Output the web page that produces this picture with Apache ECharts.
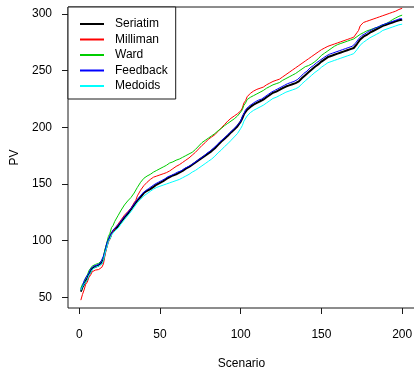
<!DOCTYPE html>
<html>
<head>
<meta charset="utf-8">
<script src="https://cdn.jsdelivr.net/npm/echarts@6/dist/echarts.min.js"></script>
<style>
  html, body { margin: 0; padding: 0; background: #fff; }
  #chart { width: 414px; height: 368px; }
</style>
</head>
<body>
<div id="chart"></div>
<script>
// Present value (PV) per scenario, one array per grouping method
const seriesNames = ['Seriatim', 'Milliman', 'Ward', 'Feedback', 'Medoids'];
const xTicks = [0, 50, 100, 150, 200];
const yTicks = [50, 100, 150, 200, 250, 300];

const seriatim = [
  55, 59, 61.5, 64.5, 66.5, 70.5, 72.5, 75.5, 75.5, 77,
  76.5, 78, 78, 80.5, 83.5, 90.5, 95.5, 100.5, 102.5, 106.5,
  107.5, 110, 110.5, 112.5, 113.5, 116.5, 117.5, 120.5, 121, 123.5,
  124.5, 127.5, 128.5, 131.5, 132.5, 135.5, 136, 138.5, 139.5, 142,
  142, 144, 144, 145.5, 145.5, 147.5, 147.5, 149.5, 149.5, 151,
  151, 152.5, 152.5, 154.5, 154.5, 156, 155.5, 157.5, 157, 158.5,
  158.5, 160, 160, 161.5, 161.5, 163.5, 163, 165, 165, 167,
  167, 169, 169, 171, 171, 173, 173, 175, 175, 177,
  177, 179, 179.5, 181.5, 182, 184.5, 185, 187.5, 187.5, 190,
  190, 192.5, 193, 195.5, 195.5, 198, 198.5, 201, 201.5, 205,
  208, 211.5, 213, 215.5, 216, 218, 218, 220, 220, 221.5,
  221.5, 223, 222.5, 224.5, 224.5, 226.5, 226.5, 228.5, 228.5, 230.5,
  230, 231.5, 231.5, 233, 232.5, 234.5, 234, 236, 235.5, 237,
  236.5, 238, 237.5, 239, 238.5, 240.5, 241, 243.5, 244, 246,
  246, 248.5, 249, 251, 251, 253.5, 253.5, 255.5, 255.5, 258,
  258, 260, 260, 262, 261.5, 263, 262.5, 264, 263.5, 265,
  264.5, 266, 265.5, 267, 266.5, 268, 267.5, 269, 268.5, 270,
  270.5, 273.5, 274.5, 277.5, 278, 280, 280, 281.5, 281.5, 283.5,
  283.5, 285, 285, 286.5, 286.5, 288, 287.5, 289.5, 289, 290.5,
  290, 291.5, 291, 292.5, 292, 293.5, 293, 294.5, 294, 295
];

const milliman = [
  47.5, 52.5, 56.5, 61.5, 63.5, 67.5, 69.5, 72.5, 72.5, 74,
  73.5, 74.5, 74, 76.5, 79.5, 87.5, 93.5, 98.5, 101.5, 105.5,
  107, 110.5, 111.5, 114.5, 115.5, 118.5, 119.5, 122.5, 123, 125.5,
  126, 128.5, 130, 133.5, 135.5, 139.5, 141, 144.5, 145.5, 148.5,
  149, 151.5, 152, 154, 154, 156, 155.5, 157, 156.5, 158,
  157.5, 159, 158.5, 160, 160, 161.5, 161.5, 163.5, 163.5, 165.5,
  165.5, 167, 167, 169, 169, 171, 171, 173, 173.5, 175.5,
  175.5, 178, 178.5, 181, 181.5, 184, 184.5, 186.5, 187, 189.5,
  189.5, 191.5, 191.5, 193.5, 194, 196.5, 197, 199.5, 200, 202.5,
  203, 205.5, 206, 208, 208, 210, 210, 212, 212, 214.5,
  217, 221.5, 223.5, 227, 227.5, 230, 230, 232, 231.5, 233.5,
  233, 234.5, 234, 235.5, 235.5, 237.5, 237, 239, 238.5, 240.5,
  240, 241.5, 241, 242.5, 242.5, 244.5, 244.5, 246.5, 246.5, 248.5,
  248.5, 250.5, 250.5, 252.5, 252.5, 254.5, 254.5, 256.5, 256.5, 258.5,
  258.5, 260.5, 260.5, 262.5, 262.5, 264.5, 264.5, 266.5, 266.5, 268.5,
  268, 270, 269.5, 271.5, 271, 272.5, 272, 273.5, 273, 274.5,
  274, 275.5, 275, 276.5, 276, 277.5, 277, 278.5, 278, 279.5,
  280, 283.5, 285.5, 289.5, 290.5, 292.5, 292, 293.5, 293, 294.5,
  294, 295.5, 295, 296.5, 296, 297.5, 297, 298.5, 298, 299.5,
  299, 300.5, 300, 301.5, 301, 302.5, 302.5, 304, 303.5, 305
];

const ward = [
  58, 61.5, 63.5, 67.5, 69.5, 73.5, 75, 77.5, 77.5, 79,
  78.5, 80, 79.5, 82.5, 85.5, 92.5, 97.5, 103.5, 106.5, 111.5,
  113.5, 117, 118.5, 122, 123.5, 127, 128.5, 131.5, 132.5, 135,
  135.5, 138, 139, 142, 143.5, 147, 148.5, 151.5, 152.5, 155,
  155, 157, 157, 158.5, 158.5, 160.5, 160.5, 162, 161.5, 163.5,
  163.5, 165, 165, 166.5, 166.5, 168.5, 168, 169.5, 169.5, 171,
  170.5, 172, 172, 173.5, 173.5, 175, 175, 176.5, 176.5, 178,
  178, 180.5, 181, 183.5, 184, 186.5, 186.5, 188.5, 188.5, 190.5,
  190.5, 192.5, 192.5, 194.5, 194.5, 197, 197, 199, 199, 201.5,
  201.5, 203.5, 203.5, 205.5, 205.5, 207.5, 207.5, 210, 210.5, 213.5,
  215.5, 219.5, 221.5, 224.5, 224.5, 226.5, 226.5, 228, 228, 229.5,
  229.5, 231, 231, 232.5, 232.5, 234.5, 234, 236, 236, 237.5,
  237, 238.5, 238, 239.5, 239.5, 241.5, 241, 243, 242.5, 244.5,
  244, 246, 246, 247.5, 247.5, 249.5, 249.5, 251.5, 251.5, 253.5,
  253, 254.5, 254.5, 256, 256, 258, 258, 260.5, 261, 263.5,
  263.5, 265.5, 265.5, 267.5, 267.5, 269.5, 269.5, 271.5, 271.5, 273,
  272.5, 274, 273.5, 275, 274.5, 276, 275.5, 277, 276.5, 278,
  278, 280, 280, 282, 282, 283.5, 283.5, 285, 284.5, 286,
  285.5, 287, 286.5, 288, 287.5, 289, 288.5, 290.5, 290, 291.5,
  291, 293, 293, 295, 295, 296.5, 296.5, 298, 297.5, 299
];

const feedback = [
  57.5, 59.5, 64.5, 66, 69.5, 71.5, 75, 75.5, 77.5, 77,
  78.5, 78, 80, 81, 86.5, 90.5, 97.5, 100.5, 104.5, 106.5,
  109.5, 110, 112.5, 112.5, 115.5, 116.5, 119.5, 120.5, 123, 123.5,
  126.5, 127.5, 130.5, 131.5, 134.5, 135.5, 138, 138.5, 141.5, 142,
  144, 144, 146, 146, 148, 148, 150, 150, 151.5, 151.5,
  153, 152.5, 154.5, 154.5, 156.5, 156, 157.5, 157.5, 159, 158.5,
  160.5, 160, 161.5, 161.5, 163.5, 163, 165, 164.5, 166.5, 166.5,
  168.5, 168.5, 170.5, 170.5, 172.5, 172.5, 174.5, 174.5, 177, 177,
  179, 179, 181.5, 181.5, 184, 184.5, 187, 187.5, 189.5, 190,
  192, 192.5, 195, 195.5, 197.5, 198, 200.5, 201, 203.5, 205.5,
  209.5, 212, 215.5, 216, 218.5, 218.5, 220.5, 220.5, 222.5, 222,
  224, 223.5, 225, 225, 227, 227, 229, 229, 231, 231,
  232.5, 232, 234, 233.5, 235.5, 235.5, 237, 237, 238.5, 238,
  239.5, 239, 240.5, 240, 242, 242, 244.5, 245, 247.5, 247.5,
  249.5, 250, 252.5, 252.5, 254.5, 255, 257, 257, 259, 259,
  261, 261, 263, 263, 264.5, 264, 265.5, 265, 266.5, 266,
  267.5, 267, 268.5, 268, 269.5, 269, 270.5, 270, 271.5, 271.5,
  274, 275, 278, 278.5, 281, 281, 282.5, 282.5, 284.5, 284.5,
  286, 285.5, 287.5, 287, 288.5, 288, 290, 289.5, 291, 290.5,
  292, 291.5, 293, 292.5, 294, 293.5, 295, 294.5, 296, 295.5
];

const medoids = [
  56, 59.5, 61, 63.5, 65.5, 69.5, 71.5, 74.5, 75, 76.5,
  76, 77.5, 77.5, 79.5, 82.5, 89, 93.5, 99, 101.5, 105,
  106, 108.5, 109, 111, 112, 115, 116, 118.5, 119.5, 122,
  122.5, 125.5, 126.5, 129.5, 130.5, 133.5, 134, 136.5, 137, 139.5,
  139.5, 141.5, 141.5, 143.5, 143.5, 145.5, 145.5, 147, 146.5, 148,
  147.5, 149, 148.5, 150, 149.5, 151, 150.5, 152, 151.5, 153,
  152.5, 154, 153.5, 155.5, 155, 157, 156.5, 158.5, 158.5, 160.5,
  160, 162, 162, 164, 164, 166, 166, 168, 168, 170,
  170, 172, 172.5, 174.5, 175, 177.5, 178, 180, 180.5, 183,
  183, 185.5, 186, 188.5, 189, 191.5, 192, 194.5, 195.5, 199,
  201.5, 205.5, 207, 210, 210.5, 213, 213, 215, 215, 216.5,
  216.5, 218, 217.5, 219.5, 219.5, 221.5, 221.5, 223.5, 223.5, 225.5,
  225, 226.5, 226.5, 228, 227.5, 229.5, 229, 231, 230.5, 232,
  231.5, 233, 232.5, 234, 233.5, 235.5, 236, 238.5, 239, 241,
  241, 243.5, 244, 246, 246, 248.5, 248.5, 250.5, 250.5, 253,
  253, 255, 255, 257, 256.5, 258, 257.5, 259, 258.5, 260,
  259.5, 261, 260.5, 262, 261.5, 263, 262.5, 264, 263.5, 265,
  265.5, 268.5, 269.5, 272.5, 273, 275, 275, 277, 277, 279,
  279, 280.5, 280.5, 282, 282, 283.5, 283.5, 285.5, 285, 286.5,
  286, 287.5, 287, 288.5, 288, 289.5, 289, 290.5, 290, 291
];

const seriesValues = [seriatim, milliman, ward, feedback, medoids];
const seriesColors = ['#000000', '#ff0000', '#00cd00', '#0000ff', '#00ffff'];
const seriesWidths = [2, 1, 1, 1, 1];

const FONT = '"Liberation Sans", Arial, Helvetica, sans-serif';

const chart = echarts.init(document.getElementById('chart'), null, { renderer: 'canvas' });

const series = seriesNames.map((name, k) => ({
  name: name,
  type: 'line',
  symbol: 'none',
  showSymbol: false,
  animation: false,
  silent: true,
  z: 2 + k,
  lineStyle: { color: seriesColors[k], width: seriesWidths[k] },
  itemStyle: { color: seriesColors[k] },
  data: seriesValues[k].map((v, i) => [i + 1, v])
}));

chart.setOption({
  animation: false,
  backgroundColor: '#ffffff',
  textStyle: { fontFamily: FONT },
  grid: {
    left: 68, top: 7, width: 347, height: 301,
    containLabel: false,
    outerBoundsMode: 'none',
    show: true, borderColor: '#1a1a1a', borderWidth: 1, backgroundColor: 'transparent'
  },
  legend: {
    data: seriesNames,
    orient: 'vertical',
    left: 68, top: 7,
    backgroundColor: '#ffffff',
    borderColor: '#1a1a1a', borderWidth: 1, borderRadius: 0,
    padding: [11, 8, 7, 11],
    itemWidth: 24, itemHeight: 12, itemGap: 3.5,
    selectedMode: false,
    itemStyle: { opacity: 0 },
    textStyle: { fontFamily: FONT, fontSize: 12, color: '#000', padding: [0, 0, 0, 6] }
  },
  xAxis: {
    type: 'value',
    min: -6.96, max: 207.96,
    name: 'Scenario',
    nameLocation: 'middle',
    nameGap: 50,
    nameTextStyle: { fontFamily: FONT, fontSize: 12, color: '#000' },
    axisLine: { show: false, onZero: false },
    axisTick: { show: true, length: 6, lineStyle: { color: '#1a1a1a', width: 1 }, customValues: xTicks },
    axisLabel: { fontFamily: FONT, fontSize: 12, color: '#000', margin: 21, customValues: xTicks },
    splitLine: { show: false }
  },
  yAxis: {
    type: 'value',
    min: 40.56, max: 306.18,
    name: 'PV',
    nameLocation: 'middle',
    nameGap: 46,
    nameRotate: 90,
    nameTextStyle: { fontFamily: FONT, fontSize: 12, color: '#000' },
    axisLine: { show: false, onZero: false },
    axisTick: { show: true, length: 6, lineStyle: { color: '#1a1a1a', width: 1 }, customValues: yTicks },
    axisLabel: { fontFamily: FONT, fontSize: 12, color: '#000', margin: 16, customValues: yTicks },
    splitLine: { show: false }
  },
  series: series
});
</script>
</body>
</html>
